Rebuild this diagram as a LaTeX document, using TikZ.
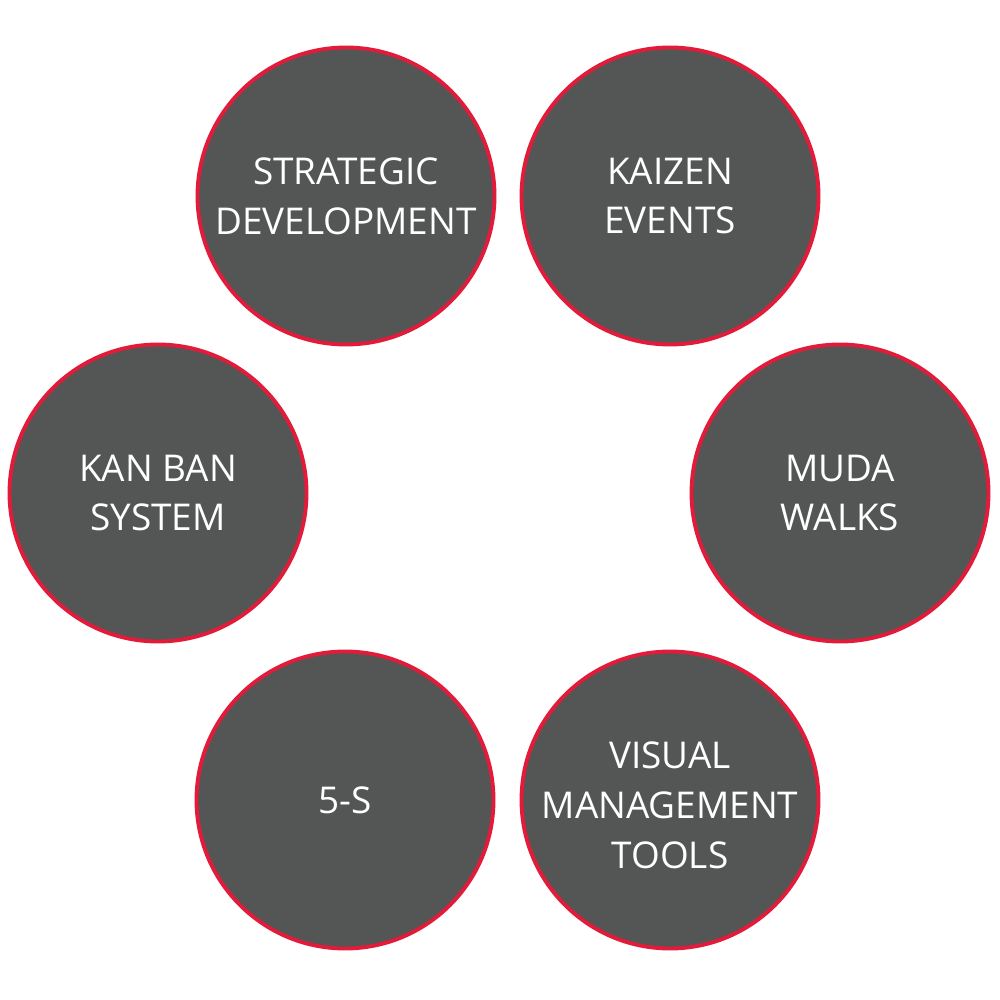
\documentclass[tikz,border=0pt]{standalone}
\usepackage{fontspec}
\setmainfont{Open Sans}
\usetikzlibrary{positioning}
\definecolor{bubblegray}{HTML}{545555}
\definecolor{bubblered}{HTML}{E31B3A}
\tikzset{bubble/.style={circle, draw=bubblered, fill=bubblegray, line width=1.1pt, minimum size=2.97cm, inner sep=0pt, text=white, align=center, font=\fontsize{10.5}{14.2}\selectfont}}

\begin{document}
\begin{tikzpicture}
        \useasboundingbox (0,0) rectangle (10,-10);
        \node[bubble] (strategic) at (3.46,-1.96) {STRATEGIC\\DEVELOPMENT};
        \node[bubble] (kaizen) at (6.70,-1.96) {KAIZEN\\EVENTS};
        \node[bubble] (kanban) at (1.58,-4.93) {KAN BAN\\SYSTEM};
        \node[bubble] (muda) at (8.40,-4.93) {MUDA\\WALKS};
        \node[bubble] (fives) at (3.45,-8.00) {5-S};
        \node[bubble] (visual) at (6.70,-8.00) {\\[-0.12cm]VISUAL\\MANAGEMENT\\TOOLS};
    \end{tikzpicture}
\end{document}
